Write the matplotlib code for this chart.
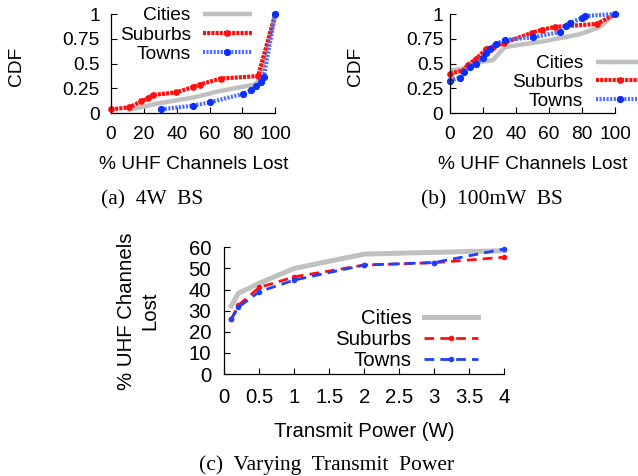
import matplotlib
matplotlib.use('Agg')
import matplotlib.pyplot as plt

W, H = 638, 476
plt.rcParams['font.family'] = ['Liberation Sans', 'DejaVu Sans']

# ---------------- data ----------------
series_names = ['Cities', 'Suburbs', 'Towns']

# (a) 4W BS  (x: % UHF channels lost, y: CDF)
a_cities_x = [10, 28.6, 50.5, 65, 87.5, 90.5, 100]
a_cities_y = [0.03, 0.10, 0.16, 0.22, 0.29, 0.34, 1.0]
a_sub_x = [0, 11, 18.5, 22.3, 25.5, 39.7, 50, 54, 67, 89.5, 100]
a_sub_y = [0.04, 0.06, 0.12, 0.15, 0.185, 0.21, 0.265, 0.29, 0.35, 0.375, 1.0]
a_town_x = [30.6, 50, 60, 80.3, 85.4, 88.4, 91, 93, 100]
a_town_y = [0.04, 0.077, 0.11, 0.195, 0.23, 0.275, 0.32, 0.37, 1.0]

# (b) 100mW BS
b_cities_x = [0, 8, 16, 26, 33, 42, 55, 63, 77, 83, 91, 100]
b_cities_y = [0.43, 0.45, 0.51, 0.535, 0.665, 0.69, 0.72, 0.745, 0.79, 0.82, 0.87, 1.0]
b_sub_x = [0, 7.7, 11, 16, 22, 26, 33, 49.5, 55.5, 63.6, 89, 100]
b_sub_y = [0.40, 0.43, 0.49, 0.55, 0.65, 0.67, 0.71, 0.81, 0.84, 0.87, 0.90, 1.0]
b_town_x = [0, 6, 8.5, 12, 15.5, 20, 22, 24, 28, 33.5, 50.5, 66.7, 70, 72.7, 80, 82, 100]
b_town_y = [0.33, 0.36, 0.42, 0.47, 0.50, 0.56, 0.61, 0.65, 0.70, 0.74, 0.765, 0.82,
            0.88, 0.91, 0.96, 0.98, 1.0]

# (c) varying transmit power
c_power = [0.1, 0.2, 0.5, 1, 2, 3, 4]
c_cities = [32.2, 38.2, 43, 50, 56.8, 57.6, 58.4]
c_sub = [26, 32.5, 41, 46, 51.6, 52.7, 55.3]
c_town = [26, 31.6, 39, 44.5, 51.6, 52.8, 59.2]

cdf_ticks = [0, 0.25, 0.5, 0.75, 1]
cdf_ticklabels = ['0', '0.25', '0.5', '0.75', '1']
pct_ticks = [0, 20, 40, 60, 80, 100]
pow_ticks = [0, 0.5, 1, 1.5, 2, 2.5, 3, 3.5, 4]
pow_ticklabels = ['0', '0.5', '1', '1.5', '2', '2.5', '3', '3.5', '4']
lost_ticks = [0, 10, 20, 30, 40, 50, 60]

# ---------------- layout helpers ----------------
fig = plt.figure(figsize=(W / 100, H / 100), dpi=100)


def ax_at(l, t, r, b):
    return fig.add_axes([l / W, 1 - b / H, (r - l) / W, (b - t) / H])


def ftext(x, y, s, **kw):
    return fig.text(x / W, 1 - y / H, s, **kw)


def style(ax, fs, xpad, ypad):
    for s in ['top', 'right']:
        ax.spines[s].set_visible(False)
    for s in ['left', 'bottom']:
        ax.spines[s].set_linewidth(0.9)
    ax.tick_params(direction='in', length=4, width=0.8, labelsize=fs)
    ax.tick_params(axis='x', pad=xpad)
    ax.tick_params(axis='y', pad=ypad)


GRAY = '#c0c0c0'
RED = '#ff1010'
BLUE = '#2040ff'


def cdf_panel(ax, cx, cy, sx, sy, tx, ty, ypad):
    ax.plot(cx, cy, color=GRAY, lw=3.2, solid_capstyle='butt', label='Cities', clip_on=False)
    ax.plot(sx, sy, color=RED, lw=3.0, linestyle=(0, (0.75, 0.25)), marker='o', ms=3.8,
            mfc=RED, mec=RED, label='Suburbs', clip_on=False)
    ax.plot(tx, ty, color='#4a6cff', lw=3.0, linestyle=(0, (0.5, 0.35)), marker='o', ms=4.2,
            mfc='#0a30ff', mec='#0a30ff', label='Towns', clip_on=False)
    ax.set_xlim(0, 100)
    ax.set_ylim(0, 1)
    ax.set_xticks(pct_ticks)
    ax.set_yticks(cdf_ticks)
    ax.set_yticklabels(cdf_ticklabels)
    style(ax, 13.8, 9.5, ypad)


# (a)
axa = ax_at(111, 14, 275.3, 113.3)
cdf_panel(axa, a_cities_x, a_cities_y, a_sub_x, a_sub_y, a_town_x, a_town_y, 8.0)
fs_ab = 13.8 * 100 / 72
axa.legend(loc='upper right', bbox_to_anchor=(252 / W, 1 - 6.8 / H),
           bbox_transform=fig.transFigure, frameon=False, markerfirst=False,
           fontsize=13.8, borderpad=0, borderaxespad=0, handlelength=2.57,
           handletextpad=0.62, labelspacing=0.1, numpoints=1)
ftext(17, 66, 'CDF', rotation=90, ha='center', va='center', fontsize=13.8)
ftext(193.5, 169, '% UHF Channels Lost', ha='center', va='baseline', fontsize=13.8)
ftext(152.5, 204, '(a)  4W  BS', ha='center', va='baseline', fontsize=15.5,
      family=['Liberation Serif', 'DejaVu Serif'])

# (b)
axb = ax_at(450, 14, 615, 113.3)
cdf_panel(axb, b_cities_x, b_cities_y, b_sub_x, b_sub_y, b_town_x, b_town_y, 4.8)
axb.legend(loc='upper right', bbox_to_anchor=(645 / W, 1 - 54.8 / H),
           bbox_transform=fig.transFigure, frameon=False, markerfirst=False,
           fontsize=13.8, borderpad=0, borderaxespad=0, handlelength=2.57,
           handletextpad=0.67, labelspacing=0.07, numpoints=1)
ftext(355.5, 66, 'CDF', rotation=90, ha='center', va='center', fontsize=13.8)
ftext(532.5, 169, '% UHF Channels Lost', ha='center', va='baseline', fontsize=13.8)
ftext(491.5, 204, '(b)  100mW  BS', ha='center', va='baseline', fontsize=15.5,
      family=['Liberation Serif', 'DejaVu Serif'])

# (c)
axc = ax_at(224.3, 247.3, 504.3, 374)
axc.plot(c_power, c_cities, color=GRAY, lw=3.6, label='Cities', clip_on=False)
axc.plot(c_power, c_sub, color=RED, lw=2.0, linestyle=(0, (3.5, 2.2)), marker='o', ms=3,
         label='Suburbs', clip_on=False)
axc.plot(c_power, c_town, color=BLUE, lw=2.0, linestyle=(0, (3.5, 2.2)), marker='o', ms=3,
         label='Towns', clip_on=False)
axc.set_xlim(0, 4)
axc.set_ylim(0, 60)
axc.set_xticks(pow_ticks)
axc.set_xticklabels(pow_ticklabels)
axc.set_yticks(lost_ticks)
style(axc, 14.7, 10, 9.5)
axc.legend(loc='upper right', bbox_to_anchor=(478 / W, 1 - 309.3 / H),
           bbox_transform=fig.transFigure, frameon=False, markerfirst=False,
           fontsize=14.7, borderpad=0, borderaxespad=0, handlelength=2.64,
           handletextpad=0.62, labelspacing=0.09, numpoints=1)
ftext(138, 311, '% UHF Channels\nLost', rotation=90, ha='center', va='center',
      fontsize=14.7, multialignment='center', linespacing=1.3)
ftext(364.3, 436.7, 'Transmit Power (W)', ha='center', va='baseline', fontsize=14.7)
ftext(327, 470, '(c)  Varying  Transmit  Power', ha='center', va='baseline', fontsize=15.5,
      family=['Liberation Serif', 'DejaVu Serif'])

fig.savefig('out.png', dpi=100)
